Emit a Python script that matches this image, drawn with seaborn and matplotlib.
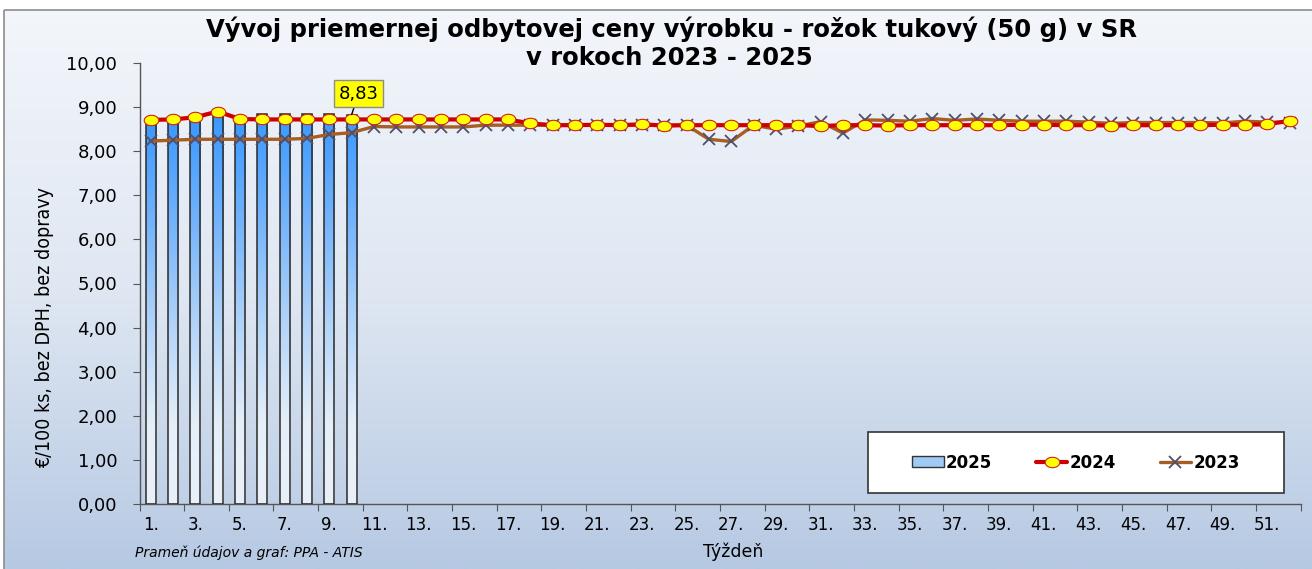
import numpy as np
import pandas as pd
import matplotlib
matplotlib.use("Agg")
import matplotlib.pyplot as plt
import seaborn as sns
from matplotlib.path import Path
from matplotlib.lines import Line2D
from matplotlib.patches import Patch, Rectangle
from matplotlib.colors import LinearSegmentedColormap

# ---------------- data ----------------
weeks = list(range(1, 53))
week_labels = [f"{w}." for w in range(1, 53, 2)]
weeks_2025 = list(range(1, 11))
price_2025 = [8.70, 8.72, 8.74, 8.79, 8.72, 8.85, 8.85, 8.85, 8.85, 8.83]
price_2024 = [8.71, 8.72, 8.77, 8.90, 8.73, 8.72, 8.72, 8.72, 8.72, 8.72,
              8.72, 8.72, 8.72, 8.72, 8.72, 8.72, 8.72, 8.63, 8.59, 8.59,
              8.60, 8.59, 8.61, 8.58, 8.59, 8.59, 8.59, 8.59, 8.59, 8.59,
              8.57, 8.59, 8.59, 8.58, 8.59, 8.59, 8.59, 8.59, 8.59, 8.60,
              8.60, 8.59, 8.59, 8.58, 8.59, 8.59, 8.59, 8.59, 8.60, 8.60,
              8.61, 8.69]
price_2023 = [8.23, 8.25, 8.27, 8.27, 8.27, 8.27, 8.27, 8.29, 8.38, 8.42,
              8.56, 8.55, 8.55, 8.55, 8.55, 8.59, 8.59, 8.59, 8.59, 8.59,
              8.59, 8.59, 8.59, 8.59, 8.59, 8.27, 8.22, 8.59, 8.50, 8.57,
              8.67, 8.41, 8.71, 8.70, 8.68, 8.74, 8.70, 8.73, 8.70, 8.68,
              8.68, 8.68, 8.66, 8.63, 8.65, 8.65, 8.65, 8.65, 8.64, 8.68,
              8.66, 8.65]
y_ticks = list(range(0, 11))
series_names = ["2025", "2024", "2023"]

df25 = pd.DataFrame({"week": weeks_2025, "price": price_2025})
df24 = pd.DataFrame({"week": weeks, "price": price_2024})
df23 = pd.DataFrame({"week": weeks, "price": price_2023})

# ---------------- style ----------------
sns.set_style("white")
plt.rcParams["font.family"] = ["DejaVu Sans"]
for k in ["text.color", "axes.labelcolor", "xtick.color", "ytick.color"]:
    plt.rcParams[k] = "black"

W, H = 1312, 569
fig = plt.figure(figsize=(W / 100, H / 100), dpi=100)
fig.patch.set_facecolor("white")

# background gradient panel
bg = fig.add_axes([0, 0, 1, 1], zorder=-10)
grad = np.linspace(0, 1, 256).reshape(-1, 1)
bg_cmap = LinearSegmentedColormap.from_list("bg", ["#f3f6fb", "#dfe7f2", "#b6c9e3"])
bg.imshow(grad, aspect="auto", cmap=bg_cmap, extent=[4, W, H, 10])
bg.set_xlim(0, W)
bg.set_ylim(H, 0)
bg.add_patch(Rectangle((4, 10), W, H, fill=False, edgecolor="#8c8c8c", lw=1.2))
bg.axis("off")

ax = fig.add_axes([139.5 / W, 1 - 504 / H, 1161.2 / W, 441 / H])
ax.patch.set_alpha(0)

# bars 2025
sns.barplot(data=df25, x="week", y="price", native_scale=True, width=0.45,
            color="#3d9bff", edgecolor="#2a2a2a", linewidth=1.1, ax=ax,
            zorder=2)
bar_cmap = LinearSegmentedColormap.from_list(
    "bar", [(0.0, "#e9f0f9"), (0.2, "#e6eff9"), (0.45, "#b5d5f8"),
            (0.75, "#6fb1fb"), (1.0, "#3a98ff")])
bgrad = np.linspace(0, 1, 256).reshape(-1, 1)
for p in list(ax.patches):
    x0, y0 = p.get_x(), p.get_y()
    w, h = p.get_width(), p.get_height()
    im = ax.imshow(bgrad, cmap=bar_cmap, origin="lower", aspect="auto",
                   extent=[x0, x0 + w, y0, y0 + h], zorder=2)
    im.set_clip_path(p)
    p.set_facecolor("none")
    p.set_zorder(3)

# ellipse marker
t = np.linspace(0, 2 * np.pi, 60)
ell = Path(np.column_stack([1.4 * np.cos(t), np.sin(t)]), closed=True)

sns.lineplot(data=df23, x="week", y="price", color="#a65e22", lw=2.4,
             marker="x", markersize=8, markeredgewidth=1.3,
             markeredgecolor="#4f4f6e", ax=ax, zorder=4)
sns.lineplot(data=df24, x="week", y="price", color="#cc0000", lw=3.0,
             marker=ell, markersize=10.5, markerfacecolor="#ffff00",
             markeredgecolor="#d02020", markeredgewidth=0.8, ax=ax, zorder=5)

# annotation of last 2025 value
ax.annotate(f"{price_2025[-1]:.2f}".replace(".", ","),
            xy=(weeks_2025[-1], price_2025[-1]), xytext=(5, 15),
            textcoords="offset points", ha="center", va="center", fontsize=13,
            bbox=dict(boxstyle="square,pad=0.25", fc="#ffff00", ec="#8c8c8c", lw=1),
            arrowprops=dict(arrowstyle="-", color="black", lw=1, shrinkA=0, shrinkB=0),
            zorder=6)

# axes
ax.set_xlim(0.5, 52.5)
ax.set_ylim(0, 10)
ax.set_yticks(y_ticks)
ax.set_yticklabels([f"{v:.2f}".replace(".", ",") for v in y_ticks], fontsize=13)
ax.set_xticks(np.arange(0.5, 53, 2))
ax.set_xticklabels([])
ax.set_xticks(list(range(1, 53, 2)), minor=True)
ax.set_xticklabels(week_labels, minor=True, fontsize=12)
ax.tick_params(axis="x", which="major", length=5, color="#555555", direction="out")
ax.tick_params(axis="x", which="minor", length=0, pad=9)
ax.tick_params(axis="y", length=5, color="#555555", direction="out", pad=11, left=True)
ax.tick_params(axis="x", bottom=True, which="both")
for s in ["top", "right"]:
    ax.spines[s].set_visible(False)
for s in ["left", "bottom"]:
    ax.spines[s].set_color("#555555")
    ax.spines[s].set_linewidth(1.0)
ax.set_xlabel("")
ax.set_ylabel("")

# legend
ax.add_patch(Rectangle((0.6274, 0.0249), 0.3582, 0.1384, transform=ax.transAxes,
                       facecolor="white", edgecolor="#333333", lw=1.2, zorder=7))
handles = [
    Patch(facecolor="#9fcaf6", edgecolor="#333333", lw=1),
    Line2D([], [], color="#cc0000", lw=3.0, marker=ell, markersize=10.5,
           markerfacecolor="#ffff00", markeredgecolor="#d02020", markeredgewidth=0.8),
    Line2D([], [], color="#a65e22", lw=2.4, marker="x", markersize=8,
           markeredgewidth=1.3, markeredgecolor="#4f4f6e"),
]
leg = ax.legend(handles, series_names, loc="center", bbox_to_anchor=(0.8065, 0.094),
                ncol=3, frameon=False, prop={"weight": "bold", "size": 12},
                handlelength=1.9, handleheight=0.6, handletextpad=0.15,
                columnspacing=2.6)
leg.set_zorder(8)

# texts
fig.text(671 / W, 1 - 29 / H, "Vývoj priemernej odbytovej ceny výrobku - rožok tukový (50 g) v SR",
         ha="center", va="center", fontsize=17.5, fontweight="bold")
fig.text(669 / W, 1 - 58 / H, "v rokoch 2023 - 2025",
         ha="center", va="center", fontsize=17.5, fontweight="bold")
fig.text(45 / W, 1 - 328 / H, "€/100 ks, bez DPH, bez dopravy", rotation=90,
         ha="center", va="center", fontsize=14, fontstretch="condensed")
fig.text(733 / W, 1 - 552 / H, "Týždeň", ha="center", va="center", fontsize=12.5)
fig.text(135 / W, 1 - 553 / H, "Prameň údajov a graf: PPA - ATIS", ha="left",
         va="center", fontsize=10, style="italic")

fig.savefig("out.png", dpi=100)
